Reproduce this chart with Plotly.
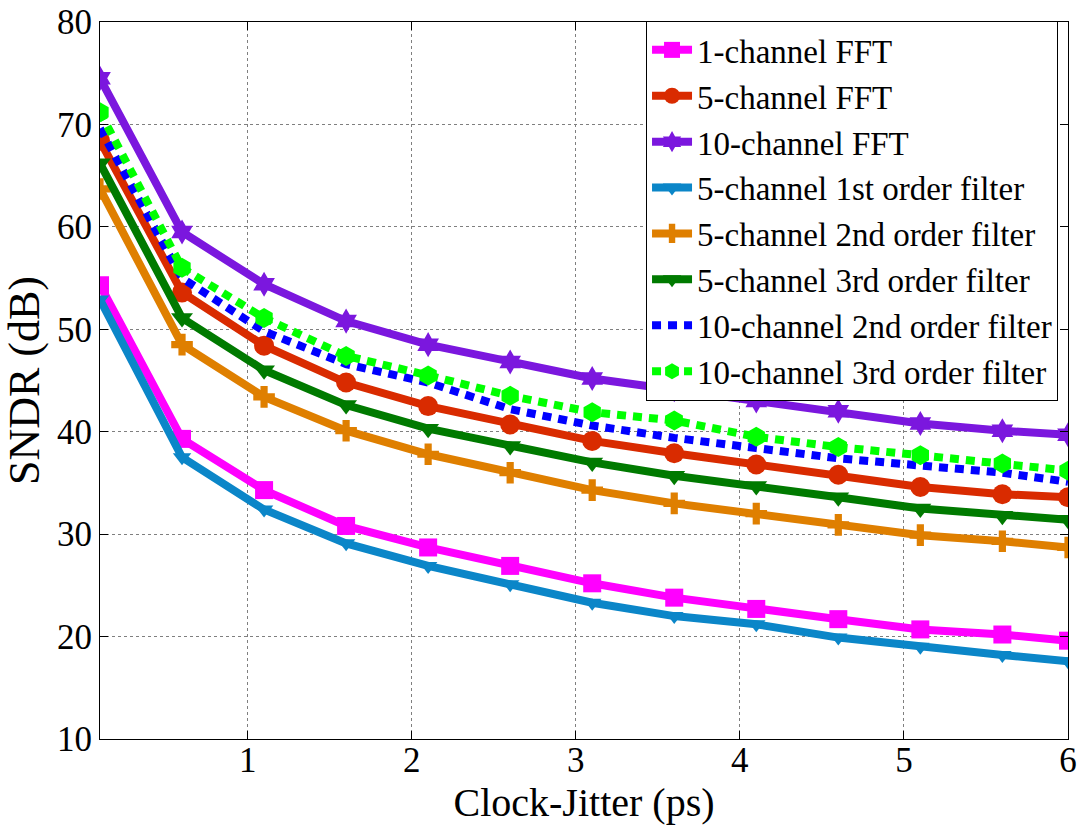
import plotly.graph_objects as go

jitter_ps = [0.1, 0.6, 1.1, 1.6, 2.1, 2.6, 3.1, 3.6, 4.1, 4.6, 5.1, 5.6, 6.0]

fft_1ch = [54.3, 39.3, 34.3, 30.8, 28.7, 26.9, 25.2, 23.8, 22.7, 21.7, 20.7, 20.2, 19.6]
fft_5ch = [68.4, 53.6, 48.4, 44.8, 42.5, 40.7, 39.1, 37.9, 36.8, 35.8, 34.6, 33.9, 33.6]
fft_10ch = [74.5, 59.5, 54.4, 50.8, 48.5, 46.8, 45.2, 44.1, 43.0, 42.0, 40.8, 40.1, 39.7]
filt1_5ch = [52.9, 37.5, 32.4, 29.1, 26.9, 25.1, 23.3, 22.0, 21.2, 19.9, 19.0, 18.2, 17.6]
filt2_5ch = [63.7, 48.5, 43.4, 40.1, 37.8, 36.0, 34.3, 33.0, 32.0, 30.9, 29.9, 29.3, 28.7]
filt3_5ch = [66.2, 51.1, 46.0, 42.6, 40.3, 38.6, 37.0, 35.7, 34.7, 33.6, 32.5, 31.8, 31.4]
filt2_10ch = [69.6, 55.0, 49.8, 46.6, 44.8, 42.2, 40.6, 39.4, 38.4, 37.4, 36.7, 36.0, 35.1]
filt3_10ch = [71.2, 56.0, 51.1, 47.4, 45.5, 43.5, 41.9, 41.1, 39.5, 38.5, 37.7, 36.9, 36.2]

series_names = [
    "1-channel FFT",
    "5-channel FFT",
    "10-channel FFT",
    "5-channel 1st order filter",
    "5-channel 2nd order filter",
    "5-channel 3rd order filter",
    "10-channel 2nd order filter",
    "10-channel 3rd order filter",
]
series_values = [fft_1ch, fft_5ch, fft_10ch, filt1_5ch, filt2_5ch, filt3_5ch, filt2_10ch, filt3_10ch]

styles = [
    dict(color="#FF00FF", symbol="square", dash="solid", msize=18, show_marker=True),
    dict(color="#D92B00", symbol="circle", dash="solid", msize=20, show_marker=True),
    dict(color="#7B17DE", symbol="hexagram", dash="solid", msize=19, show_marker=True),
    dict(color="#0B86C8", symbol="triangle-down", dash="solid", msize=16, show_marker=True),
    dict(color="#DF7F00", symbol="cross", dash="solid", msize=18, show_marker=True),
    dict(color="#007A00", symbol="triangle-down", dash="solid", msize=19, show_marker=True),
    dict(color="#0000FF", symbol="square", dash="9px,7px", msize=0, show_marker=False),
    dict(color="#00FF00", symbol="hexagon", dash="9px,7px", msize=20, show_marker=True),
]

FONT = "Liberation Serif, Times New Roman, serif"

fig = go.Figure()
for name, vals, st in zip(series_names, series_values, styles):
    fig.add_trace(go.Scatter(
        x=jitter_ps, y=vals, name=name,
        mode="lines+markers" if st["show_marker"] else "lines",
        line=dict(color=st["color"], width=8, dash=st["dash"]),
        marker=dict(symbol=st["symbol"], size=st["msize"], color=st["color"],
                    line=dict(width=0)),
    ))

axis_common = dict(
    showline=True, linecolor="black", linewidth=1, mirror="ticks",
    ticks="inside", ticklen=8, tickcolor="black",
    showgrid=True, gridcolor="#7f7f7f", gridwidth=1, griddash="dot",
    zeroline=False,
    tickfont=dict(family=FONT, size=35, color="black"),
)

fig.update_layout(
    width=1081, height=825,
    paper_bgcolor="white", plot_bgcolor="white",
    margin=dict(l=100, r=13, t=22, b=86, autoexpand=False),
    font=dict(family=FONT, color="black"),
    xaxis=dict(range=[0.1, 6], tickvals=[1, 2, 3, 4, 5, 6], ticklabelstandoff=-10,
               title=dict(text="Clock-Jitter (ps)", font=dict(family=FONT, size=40), standoff=0),
               **axis_common),
    yaxis=dict(range=[10, 80], tickvals=[10, 20, 30, 40, 50, 60, 70, 80],
               title=dict(text="SNDR (dB)", font=dict(family=FONT, size=44), standoff=4),
               **axis_common),
    legend=dict(x=0.9897, y=1.0015, xanchor="right", yanchor="top",
                bgcolor="white", bordercolor="black", borderwidth=1,
                font=dict(family=FONT, size=33, color="black"),
                tracegroupgap=0, itemwidth=40),
    showlegend=True,
)

fig.write_html("out.html")
